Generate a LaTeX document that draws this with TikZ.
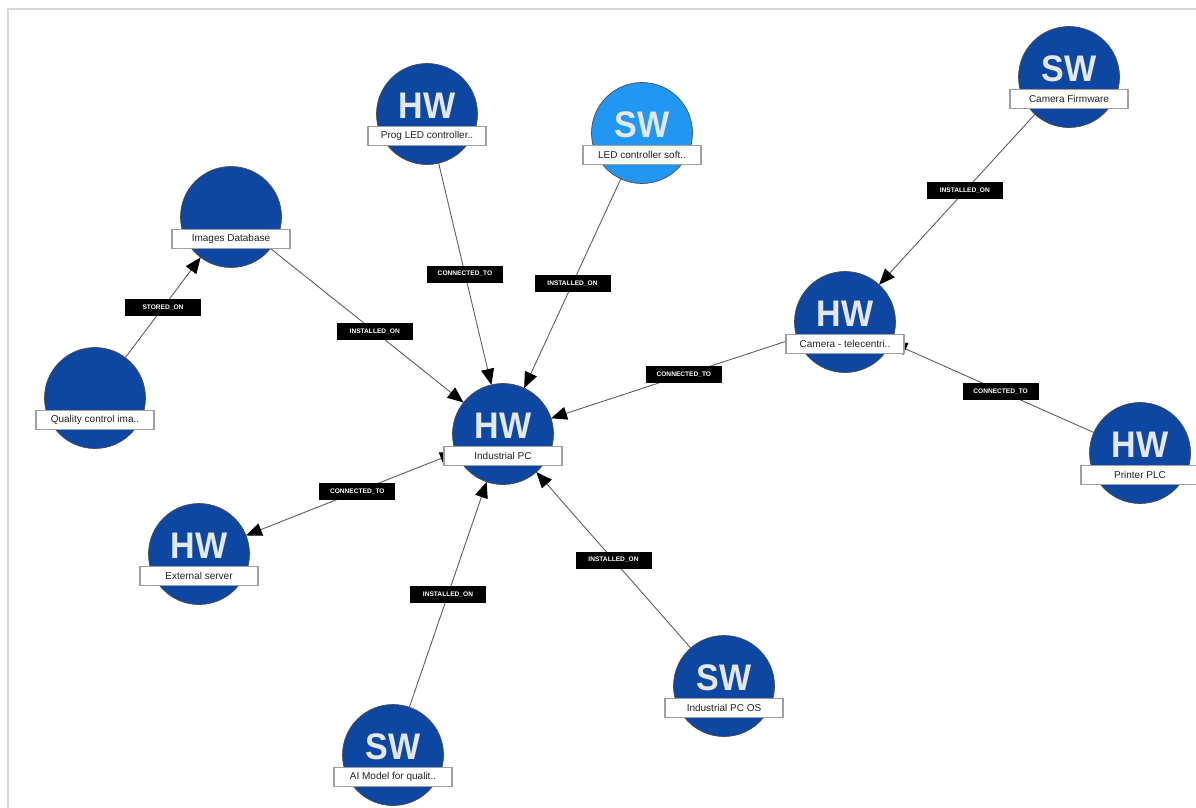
\documentclass[tikz,border=0pt]{standalone}
\usepackage{fontspec}
\setmainfont{Liberation Sans}
\usetikzlibrary{arrows.meta,calc}
\definecolor{nodeblue}{HTML}{0D47A1}
\definecolor{lightblue}{HTML}{2196F3}
\definecolor{hwwhite}{HTML}{E4E7EC}
\definecolor{edgegray}{HTML}{5E5E5E}
\definecolor{framegray}{HTML}{D9D9D9}
\definecolor{txtgray}{HTML}{222222}
\begin{document}
\begin{tikzpicture}[x=1pt,y=-1pt,
  dev/.style={circle,minimum size=101pt,inner sep=0pt,outer sep=0pt,fill=nodeblue,draw=gray!60!black,line width=0.7pt},
  devlight/.style={dev,fill=lightblue},
  kindtxt/.style={text=hwwhite,font=\fontsize{37}{37}\selectfont\bfseries,inner sep=0pt,xscale=0.92},
  namebox/.style={rectangle,fill=white,draw=gray!75,line width=1.4pt,minimum width=118pt,minimum height=19pt,inner sep=0pt,text=txtgray,font=\fontsize{10}{10}\selectfont},
  rel/.style={draw=edgegray,line width=0.9pt,-{Triangle[length=16pt,width=13pt,color=black]}},
  relboth/.style={draw=edgegray,line width=0.9pt,{Triangle[length=16pt,width=13pt,color=black]}-{Triangle[length=16pt,width=13pt,color=black]}},
  rellbl/.style={rectangle,fill=black,text=white,minimum width=76pt,minimum height=17pt,inner sep=0pt,font=\fontsize{6.6}{6.6}\selectfont\bfseries}
]
\useasboundingbox (0,0) rectangle (1196,807);
\draw[framegray,line width=2pt] (8,810) -- (8,9) -- (1200,9);

% circles
\node[dev] (pc) at (503,434) {};
\node[dev] (prog) at (427,114) {};
\node[devlight] (ledsw) at (642,133) {};
\node[dev] (fw) at (1069,77) {};
\node[dev] (db) at (231,217) {};
\node[dev] (qc) at (95,398) {};
\node[dev] (cam) at (845,322) {};
\node[dev] (plc) at (1140,453) {};
\node[dev] (ext) at (199,554) {};
\node[dev] (ai) at (393,755) {};
\node[dev] (os) at (724,686) {};

% kind texts
\node[kindtxt] (pc-k) at ($(pc)+(0,-8)$) {HW};
\node[kindtxt] (prog-k) at ($(prog)+(0,-8)$) {HW};
\node[kindtxt] (ledsw-k) at ($(ledsw)+(0,-8)$) {SW};
\node[kindtxt] (fw-k) at ($(fw)+(0,-8)$) {SW};
\node[kindtxt] (cam-k) at ($(cam)+(0,-8)$) {HW};
\node[kindtxt] (plc-k) at ($(plc)+(0,-8)$) {HW};
\node[kindtxt] (ext-k) at ($(ext)+(0,-8)$) {HW};
\node[kindtxt] (ai-k) at ($(ai)+(0,-8)$) {SW};
\node[kindtxt] (os-k) at ($(os)+(0,-8)$) {SW};

% connectors
\draw[rel] (qc) -- node[rellbl,pos=0.5] (l1) {STORED\_ON} (db);
\draw[rel] (db) -- node[rellbl,pos=0.54] (l2) {INSTALLED\_ON} (pc);
\draw[rel] (prog) -- node[rellbl,pos=0.5] (l3) {CONNECTED\_TO} (pc);
\draw[rel] (ledsw) -- node[rellbl,pos=0.5] (l4) {INSTALLED\_ON} (pc);
\draw[rel] (cam) -- node[rellbl,pos=0.46] (l5) {CONNECTED\_TO} (pc);
\draw[rel] (fw) -- node[rellbl,pos=0.45] (l6) {INSTALLED\_ON} (cam);
\draw[rel] (plc) -- node[rellbl,pos=0.46] (l7) {CONNECTED\_TO} (cam);
\draw[relboth] (pc) -- node[rellbl,pos=0.47] (l8) {CONNECTED\_TO} (ext);
\draw[rel] (ai) -- node[rellbl,pos=0.5] (l9) {INSTALLED\_ON} (pc);
\draw[rel] (os) -- node[rellbl,pos=0.5] (l10) {INSTALLED\_ON} (pc);

% name boxes
\node[namebox] (pc-n) at ($(pc)+(0,22)$) {Industrial PC};
\node[namebox] (prog-n) at ($(prog)+(0,22)$) {Prog LED controller..};
\node[namebox] (ledsw-n) at ($(ledsw)+(0,22)$) {LED controller soft..};
\node[namebox] (fw-n) at ($(fw)+(0,22)$) {Camera Firmware};
\node[namebox] (db-n) at ($(db)+(0,22)$) {Images Database};
\node[namebox] (qc-n) at ($(qc)+(0,22)$) {Quality control ima..};
\node[namebox] (cam-n) at ($(cam)+(0,22)$) {Camera - telecentri..};
\node[namebox] (plc-n) at ($(plc)+(0,22)$) {Printer PLC};
\node[namebox] (ext-n) at ($(ext)+(0,22)$) {External server};
\node[namebox] (ai-n) at ($(ai)+(0,22)$) {AI Model for qualit..};
\node[namebox] (os-n) at ($(os)+(0,22)$) {Industrial PC OS};
\end{tikzpicture}
\end{document}
